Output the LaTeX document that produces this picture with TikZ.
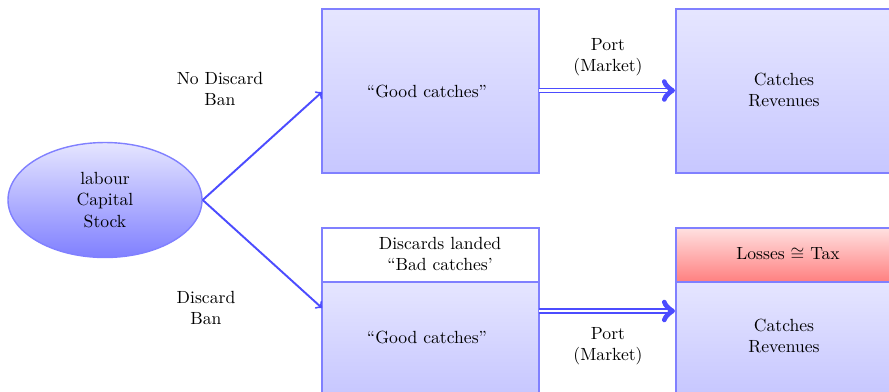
\documentclass[tikz,border=0pt]{standalone}
\usetikzlibrary{shapes.geometric,arrows}
\begin{document}
\begin{tikzpicture}[x=0.568pt,y=-0.568pt,
  boxa/.style={draw=blue!50,line width=0.8pt,top color=blue!10,bottom color=blue!22},
  boxw/.style={draw=blue!50,line width=0.8pt,fill=white},
  boxr/.style={draw=blue!50,line width=0.8pt,top color=red!12,bottom color=red!50},
  lbl/.style={align=center,font=\normalsize},
  arr/.style={draw=blue!70,line width=1.1pt,->},
  darr/.style={draw=blue!70,line width=1pt,double,double distance=1.3pt,->}]
\useasboundingbox (0,0) rectangle (889,391);
% ellipse
\node[ellipse,draw=blue!50,line width=0.8pt,top color=blue!10,bottom color=blue!50,
  minimum width=194*0.568pt,minimum height=115*0.568pt,inner sep=0pt,align=center]
  (cap) at (105,200) {labour\\Capital\\Stock};
% top boxes
\draw[boxa] (322,9) rectangle (539,173);
\node[lbl] (g1) at (427,91) {``Good catches''};
\draw[boxa] (676,9) rectangle (893,173);
\node[lbl] (r1) at (784,90) {Catches\\Revenues};
% bottom boxes
\draw[boxw] (322,228) rectangle (539,282);
\draw[boxa] (322,282) rectangle (539,393);
\node[lbl] (d2) at (440,254) {Discards landed\\``Bad catches'};
\node[lbl] (g2) at (427,337) {``Good catches''};
\draw[boxr] (676,228) rectangle (893,282);
\draw[boxa] (676,282) rectangle (893,393);
\node[lbl] (l2) at (788,254) {Losses $\cong$ Tax};
\node[lbl] (r2) at (784,336) {Catches\\Revenues};
% connector anchors
\coordinate (t1) at (322,92);
\coordinate (t2) at (322,308);
\coordinate (s1) at (539,90.5);
\coordinate (e1) at (675,90.5);
\coordinate (s2) at (539,311);
\coordinate (e2) at (675,311);
\draw[arr] (cap.east) -- (t1);
\draw[arr] (cap.east) -- (t2);
\draw[darr] (s1) -- (e1);
\draw[darr] (s2) -- (e2);
% labels
\node[lbl] (nd) at (220,89) {No Discard\\Ban};
\node[lbl] (db) at (206,308) {Discard\\Ban};
\node[lbl] (p1) at (608,57) {Port\\(Market)};
\node[lbl] (p2) at (608,346) {Port\\(Market)};
\end{tikzpicture}
\end{document}
